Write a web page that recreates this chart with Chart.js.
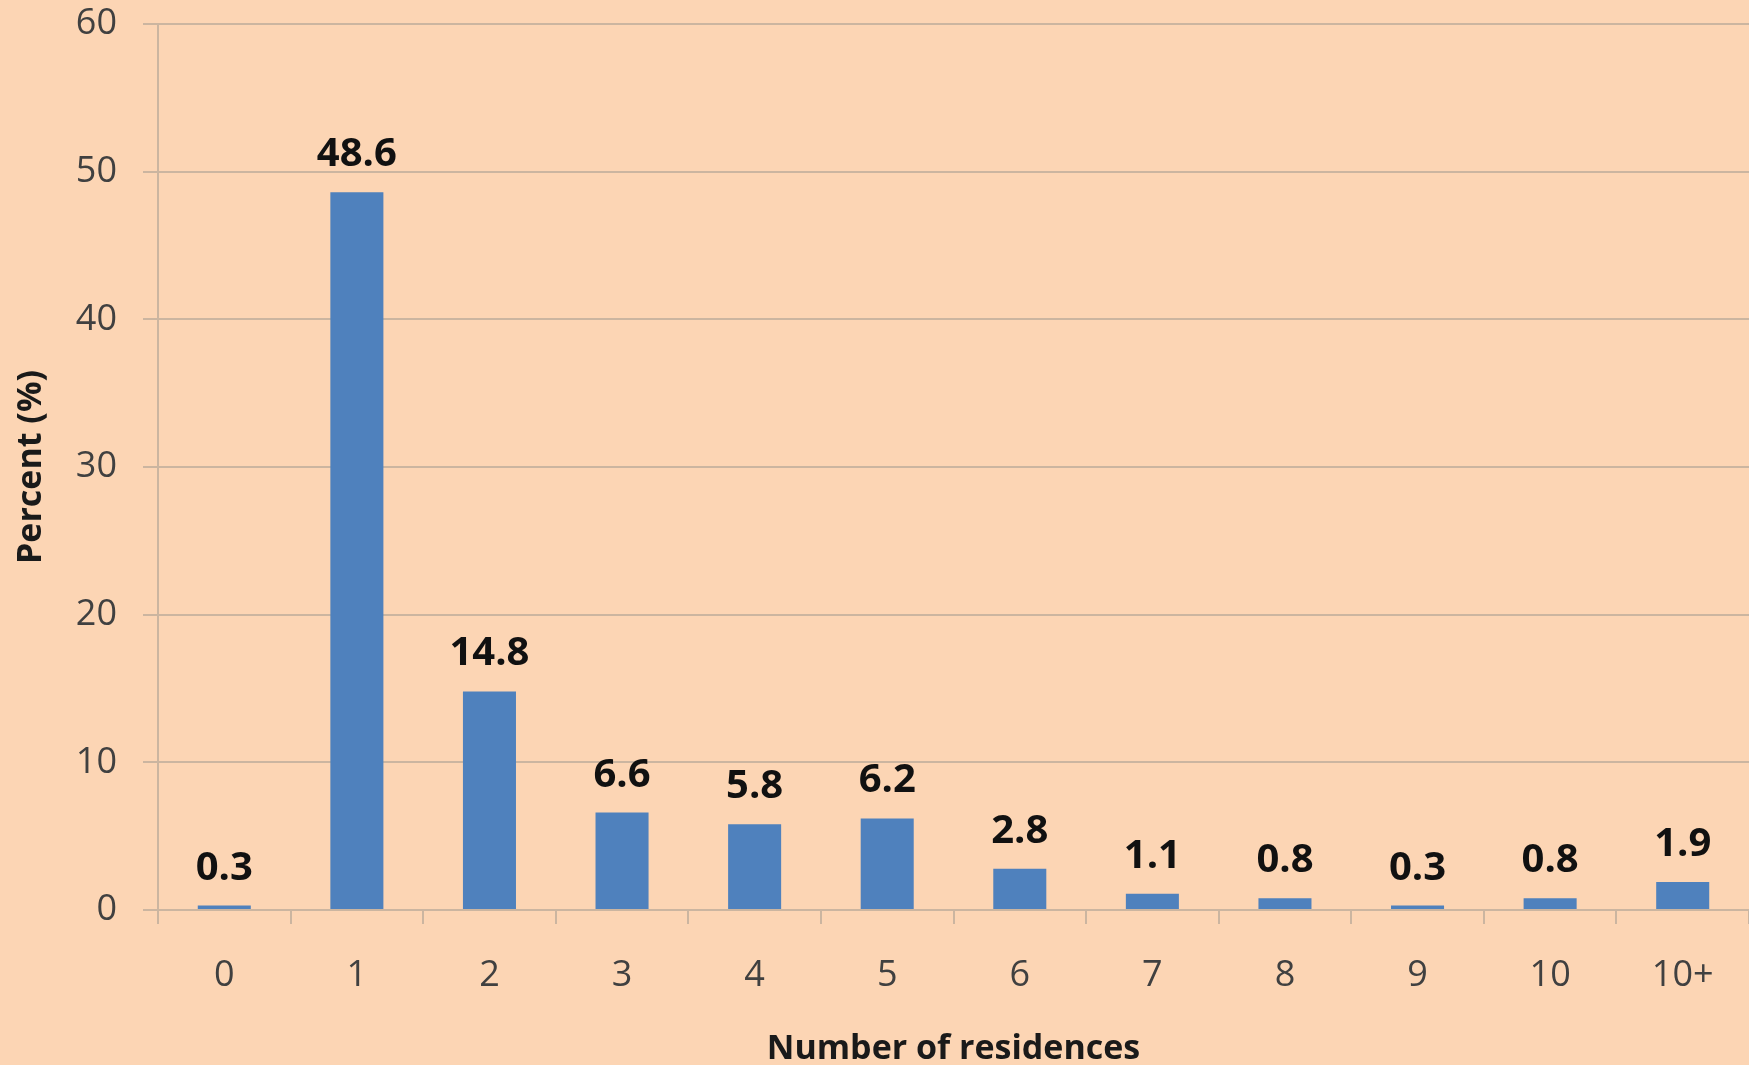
<!DOCTYPE html>
<html>
<head>
<meta charset="utf-8">
<script src="https://cdn.jsdelivr.net/npm/chart.js@4"></script>
<style>
    html, body { margin: 0; padding: 0; background: #fcd5b4; }
    #wrap { width: 1749px; height: 1065px; position: relative; }
</style>
</head>
<body>
<div id="wrap">
    <canvas id="residencesChart"></canvas>
</div>
<script>
// dados do grafico
const categorias = ['0', '1', '2', '3', '4', '5', '6', '7', '8', '9', '10', '10+'];
const percentuais = [0.3, 48.6, 14.8, 6.6, 5.8, 6.2, 2.8, 1.1, 0.8, 0.3, 0.8, 1.9];
const ticksY = [0, 10, 20, 30, 40, 50, 60];

const corFundo = '#fcd5b4';
const corBarra = '#4f81bd';
const corGrade = '#cbb5a0';
const corTexto = '#404040';

// escreve o valor em cima de cada barra
const rotulosBarras = {
    id: 'rotulosBarras',
    afterDatasetsDraw(chart) {
        const ctx = chart.ctx;
        const meta = chart.getDatasetMeta(0);
        ctx.save();
        ctx.font = 'bold 40px "Open Sans"';
        ctx.fillStyle = '#111111';
        ctx.textAlign = 'center';
        ctx.textBaseline = 'alphabetic';
        meta.data.forEach((barra, i) => {
            ctx.fillText(percentuais[i].toFixed(1), barra.x, barra.y - 26);
        });
        ctx.restore();
    }
};

const fundo = {
    id: 'fundo',
    beforeDraw(chart) {
        const ctx = chart.ctx;
        ctx.save();
        ctx.fillStyle = corFundo;
        ctx.fillRect(0, 0, chart.width, chart.height);
        ctx.restore();
    }
};

const data = {
    labels: categorias,
    datasets: [{
        data: percentuais,
        backgroundColor: corBarra,
        borderWidth: 0,
        barPercentage: 0.4,
        categoryPercentage: 1.0
    }]
};

const config = {
    type: 'bar',
    data: data,
    options: {
        responsive: true,
        maintainAspectRatio: false,
        animation: false,
        layout: { padding: { top: 24, right: 0, bottom: 0, left: 0 } },
        plugins: {
            legend: { display: false },
            tooltip: { enabled: false }
        },
        scales: {
            x: {
                offset: true,
                afterFit(scale) { scale.height = 155; },
                grid: {
                    offset: true,
                    drawOnChartArea: false,
                    drawTicks: true,
                    tickLength: 14,
                    color: corGrade,
                    lineWidth: 2
                },
                border: { display: true, color: corGrade, width: 2 },
                ticks: {
                    color: corTexto,
                    padding: 30,
                    maxRotation: 0,
                    font: { family: '"Open Sans"', size: 36 }
                },
                title: {
                    display: true,
                    text: 'Number of residences',
                    color: '#1a1a1a',
                    padding: { top: 0, bottom: -5 },
                    font: { family: '"Open Sans"', size: 34, weight: 'bold' }
                }
            },
            y: {
                min: 0,
                max: 60,
                afterFit(scale) {
                    scale.width = 158;
                    // sem folga extra em cima, o topo vem do layout
                    scale.paddingTop = 0;
                    scale.paddingBottom = 0;
                },
                afterBuildTicks(scale) {
                    scale.ticks = ticksY.map(v => ({ value: v }));
                },
                grid: {
                    color: corGrade,
                    lineWidth: 2,
                    drawTicks: true,
                    tickLength: 15
                },
                border: { display: true, color: corGrade, width: 2 },
                ticks: {
                    color: corTexto,
                    padding: 26,
                    font: { family: '"Open Sans"', size: 36 }
                },
                title: {
                    display: true,
                    text: 'Percent (%)',
                    color: '#1a1a1a',
                    padding: { top: 11, bottom: 0 },
                    font: { family: '"Open Sans"', size: 34, weight: 'bold' }
                }
            }
        }
    },
    plugins: [fundo, rotulosBarras]
};

new Chart(document.getElementById('residencesChart'), config);
</script>
</body>
</html>
